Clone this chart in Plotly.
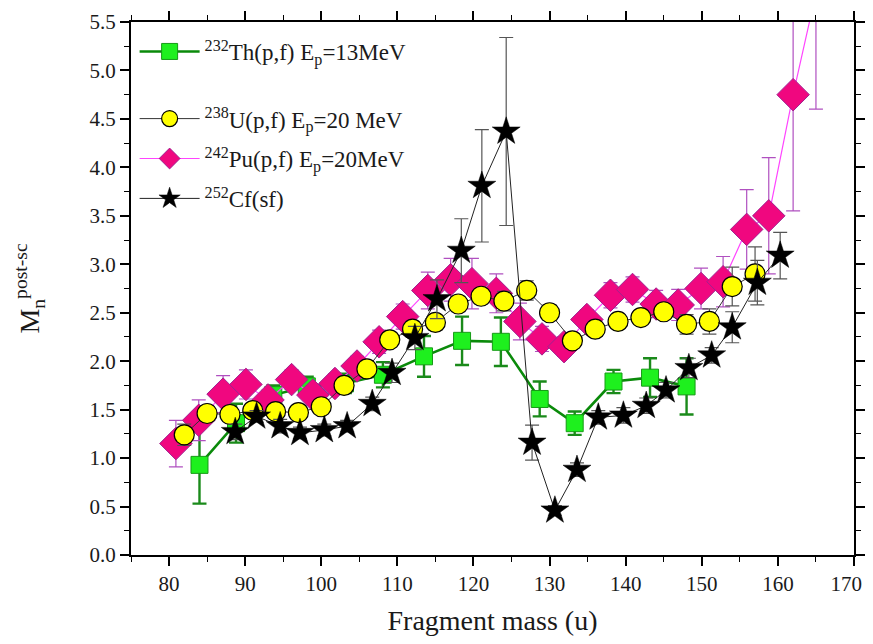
import plotly.graph_objects as go

# ---- data ----
th_x = [84.0, 88.8, 93.7, 98.1, 103.1, 108.1, 113.5, 118.5, 123.6, 128.7, 133.3, 138.4, 143.2, 148.0]
th_y = [0.93, 1.36, 1.65, 1.74, 1.77, 1.86, 2.05, 2.21, 2.20, 1.61, 1.36, 1.79, 1.83, 1.74]
th_e = [0.40, 0.20, 0.10, 0.10, 0.10, 0.13, 0.21, 0.25, 0.25, 0.18, 0.12, 0.12, 0.20, 0.29]

u_x = [82, 85, 88, 91, 94, 97, 100, 103, 106, 109, 112, 115, 118, 121, 124, 127, 130, 133, 136, 139, 142, 145, 148, 151, 154, 157]
u_y = [1.24, 1.46, 1.45, 1.49, 1.48, 1.47, 1.53, 1.75, 1.92, 2.22, 2.33, 2.40, 2.59, 2.67, 2.62, 2.73, 2.50, 2.21, 2.33, 2.41, 2.45, 2.51, 2.38, 2.41, 2.77, 2.90]
u_e = [0.11, 0.08, 0.06, 0.07, 0.07, 0.06, 0.06, 0.07, 0.06, 0.07, 0.08, 0.08, 0.08, 0.08, 0.10, 0.10, 0.08, 0.07, 0.06, 0.06, 0.06, 0.07, 0.10, 0.13, 0.20, 0.28]

pu_x = [80.9, 83.9, 87.1, 90.1, 93.0, 96.1, 98.9, 101.8, 104.7, 107.6, 110.7, 114.0, 117.0, 119.8, 123.0, 126.1, 129.0, 131.9, 134.9, 138.0, 140.9, 144.0, 146.9, 149.9, 152.8, 155.9, 158.8, 162.0, 165.0]
pu_y = [1.15, 1.39, 1.66, 1.76, 1.60, 1.81, 1.65, 1.77, 1.95, 2.20, 2.46, 2.73, 2.84, 2.80, 2.70, 2.41, 2.23, 2.15, 2.43, 2.68, 2.74, 2.59, 2.58, 2.75, 2.82, 3.36, 3.50, 4.75, 5.80]
pu_e = [0.24, 0.21, 0.19, 0.15, 0.10, 0.10, 0.10, 0.10, 0.10, 0.12, 0.13, 0.19, 0.22, 0.26, 0.20, 0.19, 0.13, 0.10, 0.10, 0.13, 0.13, 0.14, 0.16, 0.21, 0.26, 0.41, 0.60, 1.20, 1.20]

cf_x = [88.7, 91.5, 94.6, 97.2, 100.4, 103.4, 106.7, 109.3, 112.3, 115.2, 118.4, 121.1, 124.3, 127.7, 130.7, 133.6, 136.4, 139.7, 142.7, 145.3, 148.3, 151.3, 154.0, 157.3, 160.3]
cf_y = [1.27, 1.43, 1.33, 1.26, 1.29, 1.33, 1.56, 1.88, 2.24, 2.64, 3.14, 3.81, 4.37, 1.16, 0.46, 0.88, 1.42, 1.44, 1.54, 1.70, 1.93, 2.06, 2.35, 2.81, 3.09]
cf_e = [0.08, 0.06, 0.07, 0.06, 0.06, 0.06, 0.07, 0.10, 0.12, 0.20, 0.33, 0.58, 0.97, 0.18, 0.05, 0.07, 0.07, 0.08, 0.08, 0.08, 0.10, 0.08, 0.16, 0.23, 0.24]

x_ticks = [80, 90, 100, 110, 120, 130, 140, 150, 160, 170]
x_tick_text = ["80", "90", "100", "110", "120", "130", "140", "150", "160", "170\u00a0\u00a0\u00a0"]
y_ticks = [0.0, 0.5, 1.0, 1.5, 2.0, 2.5, 3.0, 3.5, 4.0, 4.5, 5.0, 5.5]

names = ["<sup>232</sup>Th(p,f) E<sub>p</sub>=13MeV",
         "<sup>238</sup>U(p,f) E<sub>p</sub>=20 MeV",
         "<sup>242</sup>Pu(p,f) E<sub>p</sub>=20MeV",
         "<sup>252</sup>Cf(sf)"]

FONT = "Liberation Serif"
TXT = "#1a1a1a"

fig = go.Figure()

fig.add_trace(go.Scatter(
    x=th_x, y=th_y, name=names[0], mode="lines+markers",
    line=dict(color="#0a8a0a", width=2.6),
    marker=dict(symbol="square", size=17, color="#1ef01e", line=dict(color="#169a16", width=1)),
    error_y=dict(type="data", array=th_e, color="#1a8a1a", thickness=2.4, width=7),
    legend="legend", showlegend=True))

fig.add_trace(go.Scatter(
    x=pu_x, y=pu_y, name=names[2], mode="lines+markers",
    line=dict(color="#ff44ff", width=1.2),
    marker=dict(symbol="diamond", size=25, color="#f0077f", line=dict(color="#a0208f", width=1)),
    error_y=dict(type="data", array=pu_e, color="#b050c0", thickness=1.2, width=7),
    legend="legend2", legendrank=2, legendgroup="pu", showlegend=True))

fig.add_trace(go.Scatter(
    x=u_x, y=u_y, name=names[1], mode="lines+markers",
    line=dict(color="#333333", width=1),
    marker=dict(symbol="circle", size=20, color="#ffff00", line=dict(color="#000000", width=1.2)),
    error_y=dict(type="data", array=u_e, color="#555555", thickness=1.2, width=7),
    legend="legend2", legendrank=1, legendgroup="u", showlegend=True))

fig.add_trace(go.Scatter(
    x=cf_x, y=cf_y, name=names[3], mode="lines+markers",
    line=dict(color="#222222", width=1),
    marker=dict(symbol="star", size=21, color="#000000", line=dict(color="#000000", width=0.5)),
    error_y=dict(type="data", array=cf_e, color="#555555", thickness=1.2, width=7),
    legend="legend2", legendrank=3, legendgroup="cf", showlegend=True))

axis_common = dict(
    showline=True, linecolor="black", linewidth=2, mirror="ticks",
    ticks="outside", ticklen=9, tickwidth=1.5, tickcolor="black",
    showgrid=False, zeroline=False, automargin=False,
    tickfont=dict(family=FONT, size=21, color=TXT),
)

fig.update_xaxes(
    range=[75, 170], tickmode="array", tickvals=x_ticks, ticktext=x_tick_text,
    ticklabeloverflow="allow",
    minor=dict(dtick=5, tick0=75, ticks="outside", ticklen=5, tickwidth=1.2, tickcolor="black"),
    title=dict(text="Fragment mass (u)", font=dict(family=FONT, size=28, color=TXT), standoff=23),
    **axis_common)

fig.update_yaxes(
    range=[0, 5.5], tickmode="array", tickvals=y_ticks, ticktext=[f"{v:.1f}" for v in y_ticks],
    minor=dict(dtick=0.25, tick0=0, ticks="outside", ticklen=5, tickwidth=1.2, tickcolor="black"),
    title=dict(text="M<sub>n</sub><sup>post-sc</sup>", font=dict(family=FONT, size=28, color=TXT), standoff=42),
    **axis_common)

fig.update_layout(
    width=865, height=628,
    margin=dict(l=123, r=19, t=14, b=81),
    paper_bgcolor="white", plot_bgcolor="white",
    font=dict(family=FONT, color=TXT),
    showlegend=True,
    legend=dict(x=0.005, y=0.985, xanchor="left", yanchor="top", visible=True,
                bgcolor="rgba(0,0,0,0)", font=dict(family=FONT, size=23, color=TXT),
                itemwidth=60),
    legend2=dict(x=0.005, y=0.859, xanchor="left", yanchor="top", visible=True,
                 bgcolor="rgba(0,0,0,0)", font=dict(family=FONT, size=23, color=TXT),
                 itemwidth=60, traceorder="grouped", tracegroupgap=7),
)

fig.write_html("out.html")
